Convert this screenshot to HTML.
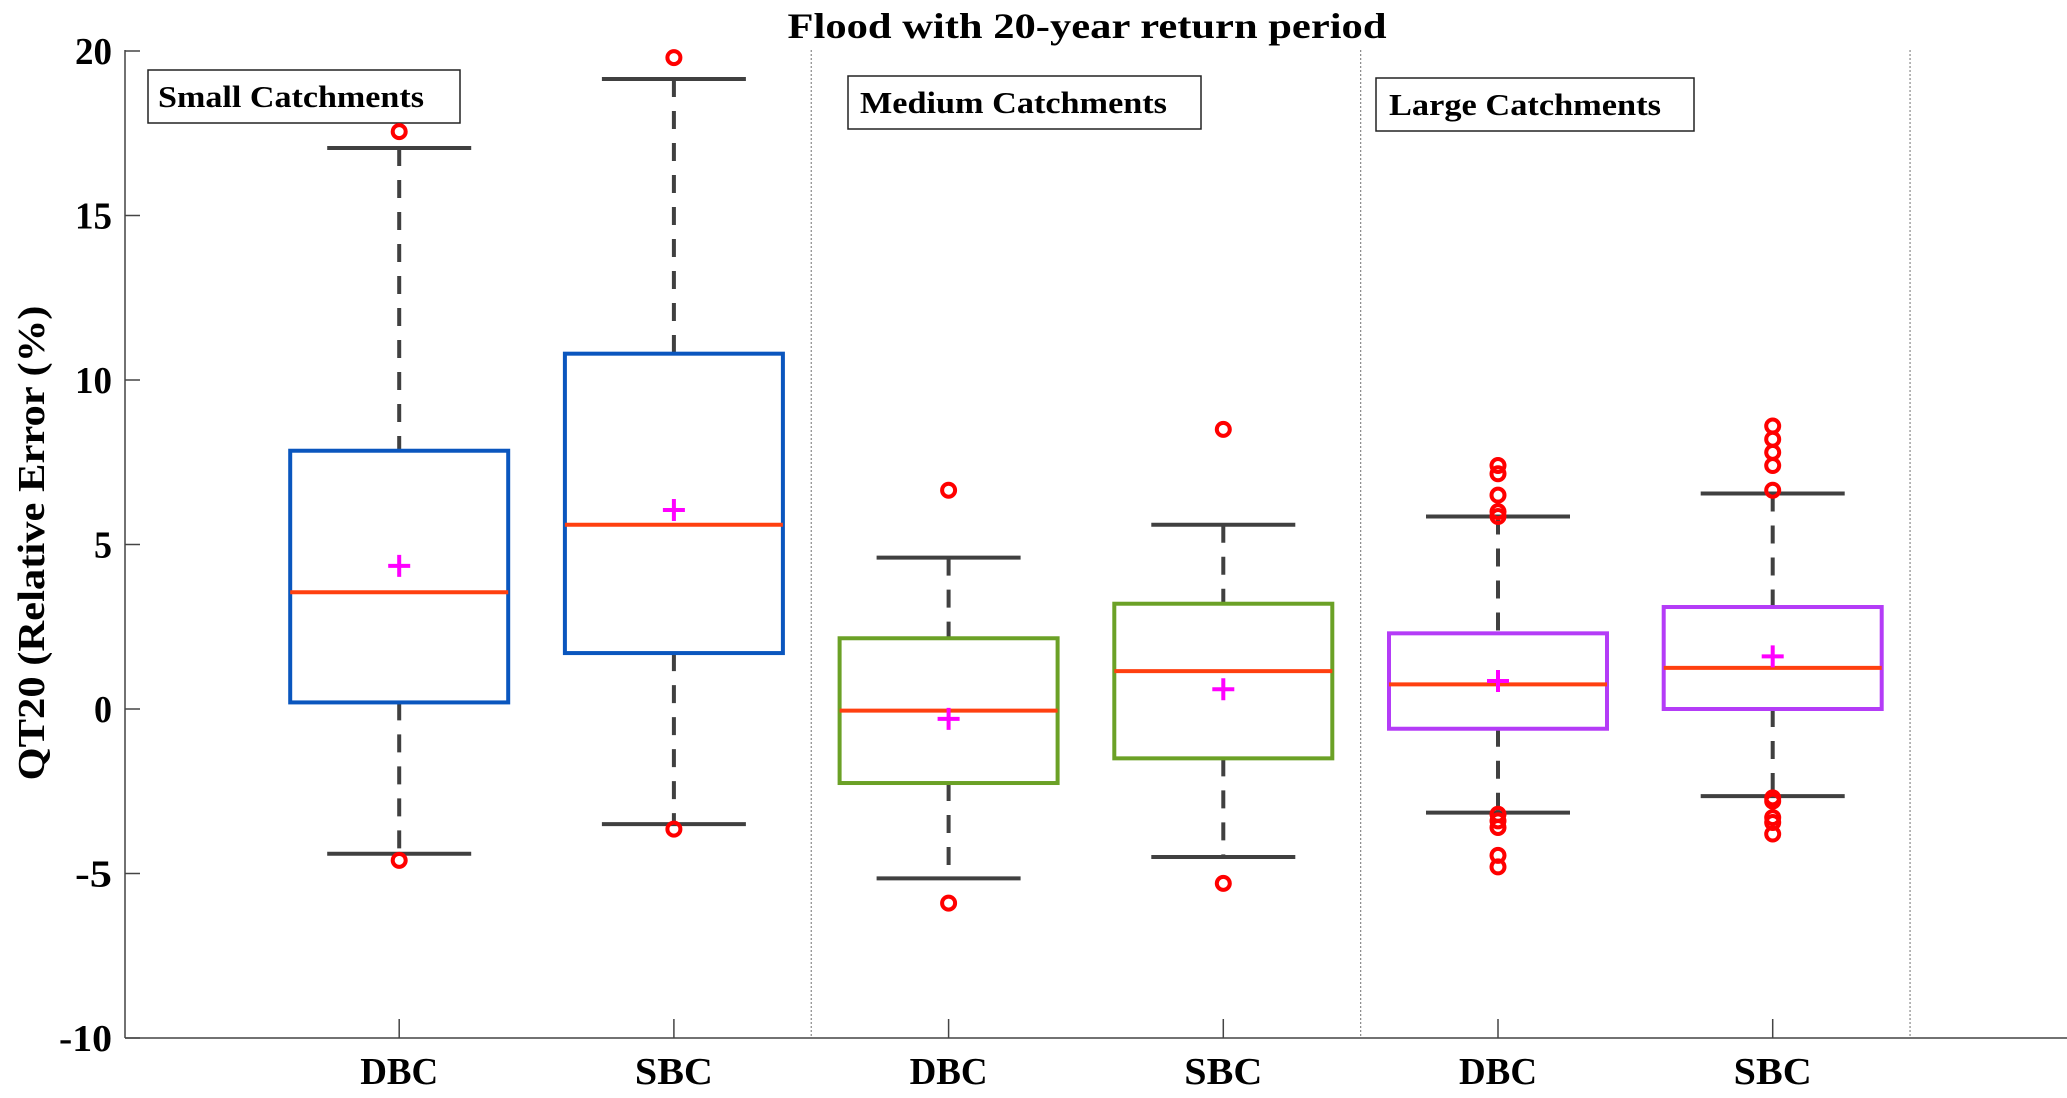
<!DOCTYPE html>
<html><head><meta charset="utf-8"><style>
html,body{margin:0;padding:0;background:#fff;}
svg{display:block;font-family:"Liberation Serif",serif;font-weight:bold;}
</style></head><body>
<svg id="chart" width="2067" height="1098" viewBox="0 0 2067 1098" xmlns="http://www.w3.org/2000/svg">
<text x="1087" y="38" font-size="36" text-anchor="middle" textLength="599" lengthAdjust="spacingAndGlyphs">Flood with 20-year return period</text>
<text transform="translate(44,543) rotate(-90)" font-size="38" text-anchor="middle" textLength="475" lengthAdjust="spacingAndGlyphs">QT20 (Relative Error (%)</text>
<g id="axes"></g>
<g id="marks"></g>
</svg>
<script>
const categories = ["DBC","SBC","DBC","SBC","DBC","SBC"];
const yTicks = [-10,-5,0,5,10,15,20];
const q1 = [0.2,1.7,-2.25,-1.5,-0.6,0];
const q3 = [7.85,10.8,2.15,3.2,2.3,3.1];
const medians = [3.55,5.6,-0.05,1.15,0.75,1.25];
const means = [4.35,6.05,-0.3,0.6,0.85,1.6];
const whiskLo = [-4.4,-3.5,-5.15,-4.5,-3.15,-2.65];
const whiskHi = [17.05,19.15,4.6,5.6,5.85,6.55];
const outliers = [[17.55,-4.6],[19.8,-3.65],[6.65,-5.9],[8.5,-5.3],[7.4,7.15,6.5,6.0,5.85,-3.2,-3.4,-3.6,-4.45,-4.8],[8.6,8.2,7.8,7.4,6.65,-2.7,-2.8,-3.3,-3.45,-3.8]];
const groupNames = ["Small Catchments","Medium Catchments","Large Catchments"];
const boxColors = ["#0a56be","#0a56be","#6ba126","#6ba126","#b43cf7","#b43cf7"];

const NS="http://www.w3.org/2000/svg";
const yScale = v => 709 - (v)*32.9;
const xScale = i => 124.5 + 274.7*i;
const axes=document.getElementById('axes'), marks=document.getElementById('marks');
function mk(tag, attrs, parent){const e=document.createElementNS(NS,tag);for(const k in attrs)e.setAttribute(k,attrs[k]);parent.appendChild(e);return e;}

let e=mk('line',{x1:125,y1:50,x2:125,y2:1038,stroke:'#444','stroke-width':1.5},axes);


e=mk('line',{x1:125,y1:1038,x2:2067,y2:1038,stroke:'#444','stroke-width':1.5},axes);


yTicks.forEach(t=>{
  const y=yScale(t);
  let l=mk('line',{x1:125,y1:y,x2:140,y2:y,stroke:'#444','stroke-width':1.5},axes);
  
  
  const s=String(t);
  const w = s.length===3?53:(s.length===2?37:18);
  let tx=mk('text',{x:112-w,y:y+13,'font-size':38,textLength:w,lengthAdjust:'spacingAndGlyphs'},axes);
  tx.textContent=s;
  
  
});
categories.forEach((c,i)=>{
  const x=xScale(i+1);
  let l=mk('line',{x1:x,y1:1038,x2:x,y2:1019,stroke:'#444','stroke-width':1.5},axes);
  
  
  let tx=mk('text',{x:x-39,y:1084,'font-size':38,textLength:78,lengthAdjust:'spacingAndGlyphs'},axes);
  tx.textContent=c;
  
  
});
[2.5,4.5,6.5].forEach(s=>{
  const x=xScale(s);
  let l=mk('line',{x1:x,y1:50,x2:x,y2:1038,stroke:'#888','stroke-width':1.2,'stroke-dasharray':'2,2'},axes);
  
  
});
const lbl=[[148,70,312,53,158,266],[848,76,353,53,860,307],[1376,78,318,53,1389,272]];
groupNames.forEach((g,i)=>{
  const [x,y,w,h,tx0,tw]=lbl[i];
  let r=mk('rect',{x:x,y:y,width:w,height:h,fill:'#fff',stroke:'#222','stroke-width':1.5},axes);
  
  
  let t=mk('text',{x:tx0,y:y+37,'font-size':31,textLength:tw,lengthAdjust:'spacingAndGlyphs'},axes);
  t.textContent=g;
  
  
});

categories.forEach((c,i)=>{
  const x=xScale(i+1), hw=109, cw=72;
  const g=mk('g',{},marks);
  
  
  mk('line',{x1:x,y1:yScale(whiskHi[i]),x2:x,y2:yScale(q3[i]),stroke:'#404040','stroke-width':4,'stroke-dasharray':'18,14'},g);
  mk('line',{x1:x,y1:yScale(q1[i]),x2:x,y2:yScale(whiskLo[i]),stroke:'#404040','stroke-width':4,'stroke-dasharray':'18,14'},g);
  mk('line',{x1:x-cw,y1:yScale(whiskHi[i]),x2:x+cw,y2:yScale(whiskHi[i]),stroke:'#404040','stroke-width':4},g);
  mk('line',{x1:x-cw,y1:yScale(whiskLo[i]),x2:x+cw,y2:yScale(whiskLo[i]),stroke:'#404040','stroke-width':4},g);
  mk('rect',{x:x-hw,y:yScale(q3[i]),width:2*hw,height:yScale(q1[i])-yScale(q3[i]),fill:'none',stroke:boxColors[i],'stroke-width':4},g);
  mk('line',{x1:x-hw,y1:yScale(medians[i]),x2:x+hw,y2:yScale(medians[i]),stroke:'#ff4010','stroke-width':4},g);
  const my=yScale(means[i]);
  mk('path',{d:`M${x-11},${my}H${x+11}M${x},${my-11}V${my+11}`,stroke:'#ff00ff','stroke-width':4},g);
  outliers[i].forEach(o=>{
    let cc=mk('circle',{cx:x,cy:yScale(o),r:6.5,fill:'none',stroke:'#ff0000','stroke-width':4},g);
    
    
  });
});
</script>
</body></html>
